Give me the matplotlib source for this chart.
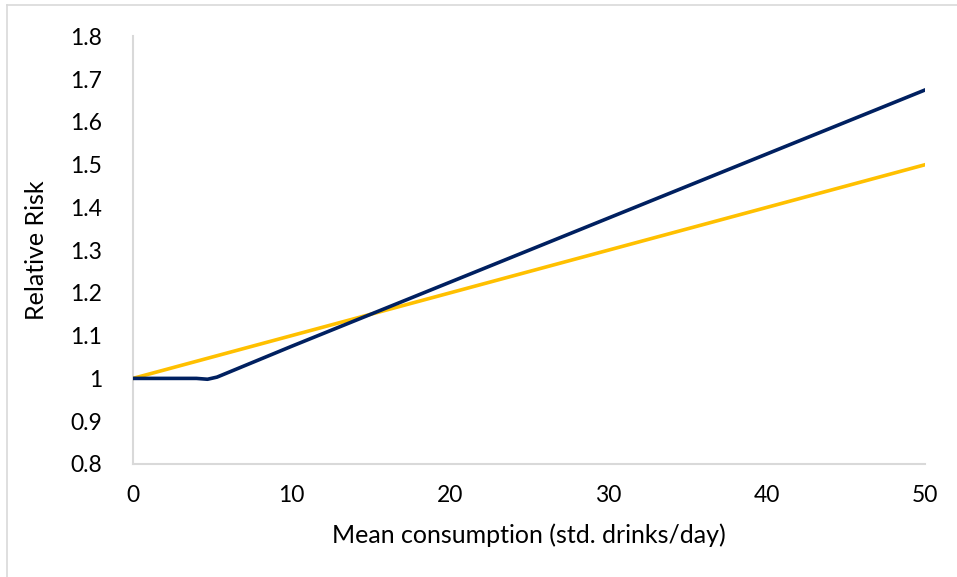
import matplotlib.pyplot as plt
from matplotlib.lines import Line2D

plt.rcParams['font.family'] = ['Lato', 'DejaVu Sans']

# data
blue_x = [0, 1, 2, 3, 4, 4.7, 5.3, 10, 20, 30, 40, 50]
blue_y = [1.0, 1.0, 1.0, 1.0, 1.0, 0.998, 1.003, 1.075, 1.225, 1.375, 1.525, 1.675]
yellow_x = [0, 10, 20, 30, 40, 50]
yellow_y = [1.0, 1.1, 1.2, 1.3, 1.4, 1.5]
xticks = [0, 10, 20, 30, 40, 50]
yticks = [0.8, 0.9, 1.0, 1.1, 1.2, 1.3, 1.4, 1.5, 1.6, 1.7, 1.8]
ytick_labels = ['0.8', '0.9', '1', '1.1', '1.2', '1.3', '1.4', '1.5', '1.6', '1.7', '1.8']

fig = plt.figure(figsize=(9.57, 5.77), dpi=100)
ax = fig.add_axes([0.139, 0.196, 0.828, 0.741])

ax.plot(yellow_x, yellow_y, color='#FFC000', lw=2.6, solid_capstyle='round', zorder=3)
ax.plot(blue_x, blue_y, color='#002060', lw=2.6, solid_capstyle='round', zorder=4)

ax.set_xlim(0, 50)
ax.set_ylim(0.8, 1.8)
ax.set_xticks(xticks)
ax.set_yticks(yticks)
ax.set_yticklabels(ytick_labels)
ax.tick_params(length=0, labelsize=16.5, colors='#000000')
ax.tick_params(axis='y', pad=22)
ax.tick_params(axis='x', pad=15)

for s in ['top', 'right']:
    ax.spines[s].set_visible(False)
for s in ['left', 'bottom']:
    ax.spines[s].set_color('#D9D9D9')
    ax.spines[s].set_linewidth(1.5)

ax.set_xlabel('Mean consumption (std. drinks/day)', fontsize=18, labelpad=13)
ax.set_ylabel('Relative Risk', fontsize=18, labelpad=16)

# chart-area border (only top and left edges show in the reference)
fig.add_artist(Line2D([7 / 957, 7 / 957], [0, 1 - 5 / 577], transform=fig.transFigure,
                      color='#D9D9D9', lw=1.2))
fig.add_artist(Line2D([7 / 957, 1], [1 - 5 / 577, 1 - 5 / 577], transform=fig.transFigure,
                      color='#D9D9D9', lw=1.2))

fig.savefig('out.png', dpi=100)
